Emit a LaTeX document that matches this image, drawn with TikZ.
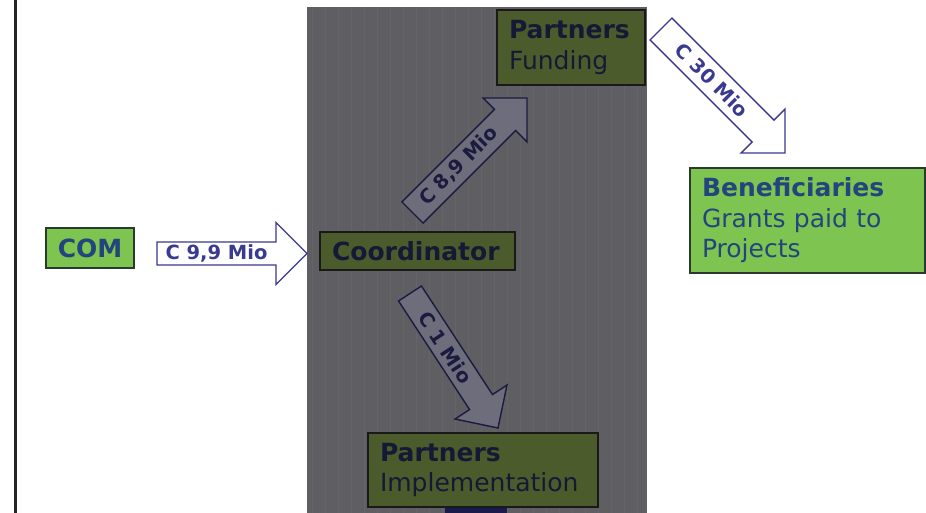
\documentclass[tikz,border=0pt]{standalone}
\usepackage{fontspec}
\setmainfont{DejaVu Sans}
\usetikzlibrary{calc,positioning}
\makeatletter
\newcommand{\tikzAngleOfLine}{\tikz@AngleOfLine}
\def\tikz@AngleOfLine(#1)(#2)#3{%
  \pgfmathanglebetweenpoints{%
    \pgfpointanchor{#1}{center}}{%
    \pgfpointanchor{#2}{center}}%
  \pgfmathsetmacro{#3}{\pgfmathresult}%
  }
\newcommand{\tikzLengthOfLine}{\tikz@LengthOfLine}
\def\tikz@LengthOfLine(#1)(#2)#3{%
  \pgfpointdiff{%
    \pgfpointanchor{#1}{center}}{%
    \pgfpointanchor{#2}{center}}%
  \pgfmathveclen{\pgf@x}{\pgf@y}%
  \pgfmathsetmacro{#3}{\pgfmathresult}%
  }
\makeatother
\definecolor{litegreen}{HTML}{7DC450}
\definecolor{comedge}{HTML}{2B3A2E}
\definecolor{navytext}{HTML}{24447E}
\definecolor{olivebox}{HTML}{4B5B2B}
\definecolor{darktext}{HTML}{141A36}
\definecolor{panelgrey}{HTML}{5E5E63}
\definecolor{panelline}{HTML}{656569}
\definecolor{arrowblue}{HTML}{3A3A8E}
\definecolor{arrowdark}{HTML}{1B1B40}
\definecolor{arrowgrey}{HTML}{6D6D7C}
\definecolor{navyblock}{HTML}{1A1A4C}
\newcommand{\boxfont}{\fontsize{25}{30.5}\selectfont}
\newcommand{\arrowfont}{\fontsize{19.5}{22}\selectfont\bfseries}
% block arrow: style, tail, tip, half body width, label
\newcommand{\moneyarrow}[5]{%
  \tikzAngleOfLine(#2)(#3){\ArrAngle}
  \tikzLengthOfLine(#2)(#3){\ArrLen}
  \pgfmathsetmacro{\ArrBase}{\ArrLen-31}
  \pgfmathsetmacro{\ArrMid}{\ArrBase/2}
  \begin{scope}[shift={(#2)},rotate=\ArrAngle]
    \draw[#1] (0pt,-#4pt) -- (\ArrBase pt,-#4pt) -- (\ArrBase pt,-31pt) -- (\ArrLen pt,0pt)
      -- (\ArrBase pt,31pt) -- (\ArrBase pt,#4pt) -- (0pt,#4pt) -- cycle;
    \node[#1 label,transform shape] at (\ArrMid pt,0pt) {#5};
  \end{scope}
}
\begin{document}
\begin{tikzpicture}[x=1pt,y=-1pt,
    greenbox/.style={draw=comedge,line width=1.5pt,fill=litegreen,text=navytext,
      inner xsep=12pt,inner ysep=0pt,align=left,font=\boxfont},
    darkbox/.style={draw=black!90,line width=2.2pt,fill=olivebox,text=darktext,
      inner xsep=12pt,inner ysep=0pt,align=left,font=\boxfont},
    outarrow/.style={draw=arrowblue,line width=1.4pt,fill=white},
    outarrow label/.style={text=arrowblue,font=\arrowfont,inner sep=0pt},
    inarrow/.style={draw=arrowdark,line width=1.4pt,fill=arrowgrey},
    inarrow label/.style={text=arrowdark,font=\arrowfont,inner sep=0pt},
    panelgrid/.style={draw=panelline,line width=0.5pt}]
  \useasboundingbox (0,0) rectangle (926,513);
  \fill[white] (0,0) rectangle (926,513);
  \draw[line width=2.5pt,black!85] (15.3,0) -- (15.3,513);

  \fill[panelgrey] (307,7) rectangle (647,513);
  \draw[panelgrid,step=13] (307,513) grid (647,7);
  \fill[navyblock] (445,500) rectangle (507,513);

  \node[greenbox,minimum width=86,minimum height=40,align=center] (com) at (90,248) {\bfseries COM};
  \node[darkbox,minimum width=195,minimum height=38,text width=171pt] (coord) at (417.5,251) {\bfseries Coordinator};
  \node[darkbox,minimum width=148,minimum height=75,text width=124pt] (funding) at (571,47.5) {\textbf{Partners}\\Funding};
  \node[darkbox,minimum width=230,minimum height=74,text width=206pt] (impl) at (483,470) {\textbf{Partners}\\Implementation};
  \node[greenbox,minimum width=235,minimum height=105,text width=211pt] (benef) at (807.5,220.5)
    {\textbf{Beneficiaries}\\Grants paid to\\Projects};

  \coordinate (c99tail) at (157,253.5);
  \coordinate (c99tip) at (307,253.5);
  \coordinate (c89tail) at (412.5,212.5);
  \coordinate (c89tip) at (527,98);
  \coordinate (c30tail) at (661,29);
  \coordinate (c30tip) at (785,153);
  \coordinate (c1tail) at (410,293.5);
  \coordinate (c1tip) at (498,428);

  \moneyarrow{outarrow}{c99tail}{c99tip}{11.5}{C 9,9 Mio}
  \moneyarrow{inarrow}{c89tail}{c89tip}{15}{C 8,9 Mio}
  \moneyarrow{outarrow}{c30tail}{c30tip}{15.5}{C 30 Mio}
  \moneyarrow{inarrow}{c1tail}{c1tip}{13.7}{C 1 Mio}
\end{tikzpicture}
\end{document}
